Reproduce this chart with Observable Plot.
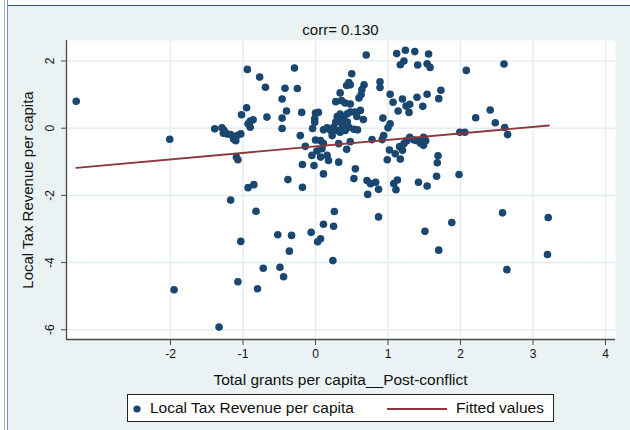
<!DOCTYPE html>
<html>
<head>
<meta charset="utf-8">
<script src="https://cdn.jsdelivr.net/npm/d3@7"></script>
<script src="https://cdn.jsdelivr.net/npm/@observablehq/plot@0.6"></script>
<style>
  html, body { margin: 0; padding: 0; background: #ffffff; }
  #wrap { position: relative; width: 630px; height: 430px; overflow: hidden;
          font-family: "Liberation Sans", Arial, sans-serif; color: #111; }
  #bg { position: absolute; left: 8px; top: 5px; right: 0; bottom: 0; background: #eaf2f3; }
  .vline { position: absolute; top: 0; bottom: 0; width: 1.5px; }
  #topline { position: absolute; left: 8px; right: 0; top: 4.5px; height: 1.5px; background: #34557a; }
  #chart { position: absolute; left: 0; top: 0; }
  .lbl { position: absolute; white-space: nowrap; font-size: 15.5px; line-height: 16px; }
  #legend { position: absolute; left: 127px; top: 394px; width: 425px; height: 26px;
            border: 1px solid #222; background: #fff; }
  .lg { position: absolute; white-space: nowrap; font-size: 15.5px; line-height: 16px; top: 5px; }
</style>
</head>
<body>
<div id="wrap">
  <div id="bg"></div>
  <div class="vline" style="left:3.5px;background:#9fb1c4"></div>
  <div class="vline" style="left:6.5px;background:#7a92ab"></div>
  <div id="topline"></div>
  <div id="chart"></div>
  <div class="lbl" id="title" style="left:340.5px;top:22px;font-size:15px;transform:translateX(-50%)"></div>
  <div class="lbl" id="xlab" style="left:340.5px;top:372px;transform:translateX(-50%)"></div>
  <div class="lbl" id="ylab" style="left:28px;top:189.5px;font-size:15px;transform:translate(-50%,-50%) rotate(-90deg)"></div>
  <div id="legend"></div>
</div>
<script>
const titleText = "corr= 0.130";
const xLabel = "Total grants per capita__Post-conflict";
const yLabel = "Local Tax Revenue per capita";
const seriesNames = ["Local Tax Revenue per capita", "Fitted values"];

const xTicks = [-2, -1, 0, 1, 2, 3, 4];
const yTicks = [-6, -4, -2, 0, 2];
const xDomain = [-3.434, 4.138];
const yDomain = [-6.289, 2.61];

// Total grants per capita (post-conflict)
const grants = [
  -3.30, -2.01, -1.95, -1.33, -1.39, -1.29, -1.26, -1.27, -1.22, -1.17,
  -1.13, -1.08, -1.03, -1.10, -1.09, -1.07, -1.17, -1.03, -1.07, -0.94,
  -0.77, -0.69, -0.95, -1.02, -0.67, -0.90, -0.86, -0.93, -0.90, -0.93,
  -0.85, -0.82, -0.72, -0.80, -0.29, -0.42, -0.25, -0.46, -0.40, -0.19,
  -0.46, -0.46, -0.21, -0.04, -0.38, -0.18, -0.18, -0.14, -0.52, -0.33,
  -0.36, -0.49, -0.44, -0.06, 0.00, 0.04, -0.01, -0.01, 0.11, 0.16,
  0.21, 0.00, 0.07, 0.11, 0.09, 0.02, -0.05, 0.07, 0.16, 0.18,
  -0.02, 0.11, 0.07, 0.03, 0.11, 0.28, 0.34, 0.43, 0.46, 0.48,
  0.50, 0.36, 0.41, 0.48, 0.30, 0.34, 0.39, 0.37, 0.28, 0.44,
  0.44, 0.48, 0.54, 0.57, 0.25, 0.30, 0.37, 0.41, 0.46, 0.53,
  0.58, 0.34, 0.23, 0.32, 0.48, 0.43, 0.32, 0.55, 0.53, 0.26,
  0.25, 0.24, 0.62, 0.66, 0.67, 0.64, 0.63, 0.60, 0.70, 0.89,
  0.89, 0.78, 0.71, 0.76, 0.83, 0.87, 0.72, 0.87, 0.93, 0.94,
  0.92, 1.00, 1.03, 1.03, 1.07, 1.20, 1.14, 1.25, 1.29, 1.12,
  1.24, 1.22, 1.17, 1.02, 1.10, 1.17, 1.20, 1.16, 1.22, 0.99,
  1.08, 1.13, 1.11, 1.26, 1.30, 1.37, 1.56, 1.41, 1.54, 1.58,
  1.40, 1.48, 1.54, 1.70, 1.73, 1.30, 1.36, 1.40, 1.49, 1.52,
  1.45, 1.49, 1.69, 1.68, 1.67, 1.42, 1.54, 1.51, 1.70, 1.88,
  1.98, 1.99, 2.06, 2.08, 2.21, 2.41, 2.48, 2.60, 2.61, 2.65,
  2.58, 2.64, 3.20, 3.21
];
// Local tax revenue per capita
const taxRevenue = [
  0.80, -0.33, -4.81, -5.92, -0.02, 0.01, -0.07, -0.15, -0.17, -0.19,
  -0.32, -0.22, -0.17, -0.37, -0.86, -0.94, -2.14, -3.37, -4.57, 1.75,
  1.52, 1.22, 0.61, 0.40, 0.33, 0.21, 0.25, 0.13, 0.03, -1.77,
  -1.68, -2.47, -4.17, -4.78, 1.79, 1.19, 1.18, 0.87, 0.51, 0.47,
  0.30, -0.01, -0.22, -0.01, -1.53, -1.08, -1.76, -0.54, -3.17, -3.19,
  -3.66, -4.14, -4.42, -3.10, 0.45, 0.47, 0.29, 0.18, -0.05, 0.01,
  -0.07, -0.35, -0.37, -0.46, -0.61, -0.68, -0.81, -0.86, -0.81, -0.96,
  -1.11, -1.36, -3.29, -3.38, -2.86, 0.79, 1.05, 1.27, 1.36, 1.29,
  1.62, 0.82, 0.75, 0.72, 0.35, 0.42, 0.33, 0.23, 0.18, 0.18,
  0.43, 0.48, 0.48, 0.35, 0.03, -0.07, 0.08, -0.07, 0.03, -0.03,
  -0.05, -0.12, -0.22, -0.46, -0.40, -0.63, -1.01, -1.21, -1.50, -2.48,
  -2.92, -3.94, 0.53, 0.26, 1.29, 1.15, 1.00, 0.90, 2.18, 1.38,
  1.21, -0.34, -1.56, -1.65, -1.61, -1.82, -1.97, -2.64, 0.30, -0.22,
  -0.34, 0.01, 0.13, 1.01, 0.77, 0.87, 0.51, 0.66, 0.47, 2.22,
  2.32, 2.00, 1.89, -0.65, -0.76, -0.92, -0.66, -0.55, -0.46, -0.94,
  -1.65, -1.54, -1.83, -0.37, 0.71, 2.28, 2.21, 1.88, 1.92, 1.81,
  0.92, 0.65, 1.01, 0.88, 1.13, -0.27, -0.35, -0.37, -0.27, -0.37,
  -0.45, -0.51, -0.82, -1.03, -1.43, -1.61, -1.72, -3.07, -3.63, -2.81,
  -1.38, -0.12, -0.12, 1.72, 0.31, 0.54, 0.16, 1.91, 0.02, -0.19,
  -2.52, -4.21, -3.76, -2.66
];
// Fitted values (linear fit) at the ends of the data range
const fitX = [-3.30, 3.22];
const fitY = [-1.18, 0.08];

const navy = "#1a476f";
const maroon = "#90353b";
const gridColor = "#e4edf0";
const axisColor = "#4a4a4a";

const points = grants.map((g, i) => ({x: g, y: taxRevenue[i]}));
const fit = fitX.map((g, i) => ({x: g, y: fitY[i]}));
const fmt = d => String(d);

const chart = Plot.plot({
  width: 630,
  height: 430,
  marginLeft: 66,
  marginRight: 15,
  marginTop: 40,
  marginBottom: 91,
  style: {background: "transparent", fontFamily: "'Liberation Sans', Arial, sans-serif", color: "#111"},
  x: {domain: xDomain},
  y: {domain: yDomain},
  marks: [
    Plot.frame({fill: "white", stroke: null}),
    Plot.gridX(xTicks, {stroke: gridColor, strokeOpacity: 1, strokeWidth: 1.5}),
    Plot.gridY(yTicks, {stroke: gridColor, strokeOpacity: 1, strokeWidth: 1.5}),
    Plot.axisX({ticks: xTicks, tickSize: 6, tickPadding: 4, tickFormat: fmt, fontSize: 12,
                label: null, stroke: axisColor, fill: "#111"}),
    Plot.axisY({ticks: yTicks, tickSize: 5, tickPadding: 8, tickRotate: -90, textAnchor: "middle",
                lineAnchor: "bottom", tickFormat: fmt, fontSize: 12, label: null,
                stroke: axisColor, fill: "#111"}),
    Plot.ruleX([xDomain[0]], {stroke: axisColor, strokeWidth: 1.3}),
    Plot.ruleY([yDomain[0]], {stroke: axisColor, strokeWidth: 1.3}),
    Plot.dot(points, {x: "x", y: "y", r: 3.8, fill: navy, stroke: null}),
    Plot.line(fit, {x: "x", y: "y", stroke: maroon, strokeWidth: 1.8})
  ]
});
document.getElementById("chart").appendChild(chart);

document.getElementById("title").textContent = titleText;
document.getElementById("xlab").textContent = xLabel;
document.getElementById("ylab").textContent = yLabel;

const legend = document.getElementById("legend");
legend.innerHTML = `
  <svg width="425" height="26" style="position:absolute;left:0;top:0">
    <circle cx="9" cy="14" r="3.6" fill="${navy}"></circle>
    <line x1="259" x2="319" y1="14" y2="14" stroke="${maroon}" stroke-width="2"></line>
  </svg>
  <span class="lg" style="left:22px">${seriesNames[0]}</span>
  <span class="lg" style="left:328px">${seriesNames[1]}</span>`;
</script>
</body>
</html>
